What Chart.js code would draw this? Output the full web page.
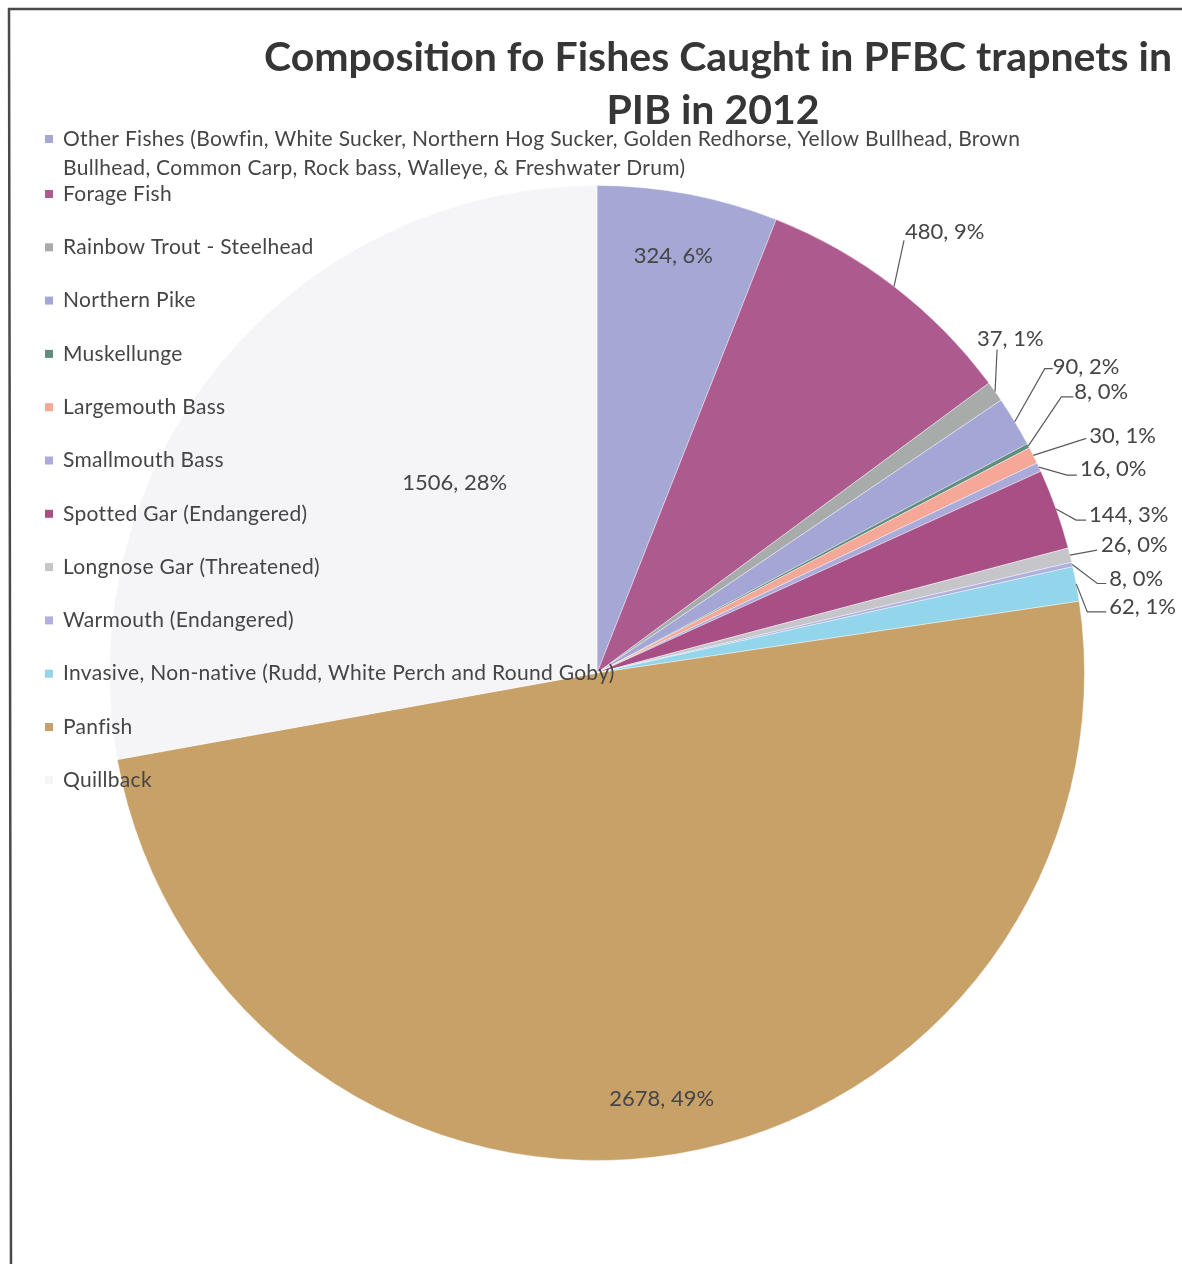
<!DOCTYPE html>
<html>
<head>
<meta charset="utf-8">
<title>Composition fo Fishes Caught in PFBC trapnets in PIB in 2012</title>
<script src="https://cdn.jsdelivr.net/npm/chart.js@4.4.0/dist/chart.umd.min.js"></script>
<style>
  html, body { margin: 0; padding: 0; background: #fff; }
  #wrap { width: 1182px; height: 1264px; position: relative; }
</style>
</head>
<body>
<div id="wrap"><canvas id="fishChart" width="1182" height="1264"></canvas></div>
<script>
// catch by species group, clockwise from 12 o'clock
var species = [
    'Other Fishes (Bowfin, White Sucker, Northern Hog Sucker, Golden Redhorse, Yellow Bullhead, Brown Bullhead, Common Carp, Rock bass, Walleye, & Freshwater Drum)',
    'Forage Fish',
    'Rainbow Trout - Steelhead',
    'Northern Pike',
    'Muskellunge',
    'Largemouth Bass',
    'Smallmouth Bass',
    'Spotted Gar (Endangered)',
    'Longnose Gar (Threatened)',
    'Warmouth (Endangered)',
    'Invasive, Non-native (Rudd, White Perch and Round Goby)',
    'Panfish',
    'Quillback'
];
var counts = [324, 480, 37, 90, 8, 30, 16, 144, 26, 8, 62, 2678, 1506];
var pctLabels = ['6%', '9%', '1%', '2%', '0%', '1%', '0%', '3%', '0%', '0%', '1%', '49%', '28%'];
var colors = ['#a5a7d4', '#ad5a8f', '#a7abaa', '#a4a6d6', '#5f8d7e', '#f5a897', '#aaaadb',
              '#a84f86', '#c6c6ca', '#b0b0e0', '#93d5ea', '#c8a169', '#f5f5f8'];

// the long first entry wraps onto two lines in the legend
var legendText = [
    ['Other Fishes (Bowfin, White Sucker, Northern Hog Sucker, Golden Redhorse, Yellow Bullhead, Brown',
     'Bullhead, Common Carp, Rock bass, Walleye, & Freshwater Drum)'],
    ['Forage Fish'], ['Rainbow Trout - Steelhead'], ['Northern Pike'], ['Muskellunge'],
    ['Largemouth Bass'], ['Smallmouth Bass'], ['Spotted Gar (Endangered)'],
    ['Longnose Gar (Threatened)'], ['Warmouth (Endangered)'],
    ['Invasive, Non-native (Rudd, White Perch and Round Goby)'], ['Panfish'], ['Quillback']
];

// where each value label sits: inside = fraction of radius, otherwise offset from the slice edge
var labelSpots = [
    { inside: 0.87, dx: -3, dy: 0 },
    { dx: 11, dy: -55, ex: -1, ey: 9, h: 0 },
    { dx: -18, dy: -53, ex: 20, ey: 11, h: 0 },
    { dx: 38, dy: -55, ex: 0, ey: 2, h: 8 },
    { dx: 46, dy: -54, ex: -1, ey: 5, h: 12 },
    { dx: 56, dy: -20, ex: -3, ey: 3, h: 0 },
    { dx: 41, dy: 2, ex: -3, ey: 6, h: 10 },
    { dx: 33, dy: 6, ex: -3, ey: 5, h: 10 },
    { dx: 31, dy: -10, ex: -4, ey: 5, h: 0 },
    { dx: 37, dy: 14, ex: -3, ey: 5, h: 9 },
    { dx: 33, dy: 23, ex: -3, ey: 5, h: 19 },
    { inside: 0.88, dx: -5, dy: 3 },
    { inside: 0.49, dx: 41, dy: -37 }
];

var TEXT = '#454545';
var FONT = 'Lato, "Open Sans", sans-serif';

var frame = {
    id: 'frame',
    beforeDraw: function (chart) {
        var ctx = chart.ctx;
        ctx.save();
        ctx.fillStyle = '#fff';
        ctx.fillRect(0, 0, chart.width, chart.height);
        ctx.strokeStyle = '#4a4a4a';
        ctx.lineWidth = 2.5;
        ctx.beginPath();
        ctx.moveTo(11, chart.height + 2);
        ctx.lineTo(9, 9);
        ctx.lineTo(chart.width + 2, 9);
        ctx.stroke();
        ctx.restore();
    }
};

var fishLabels = {
    id: 'fishLabels',
    afterDatasetsDraw: function (chart) {
        var ctx = chart.ctx;
        var arcs = chart.getDatasetMeta(0).data;
        ctx.save();

        // title
        ctx.fillStyle = '#363636';
        ctx.textAlign = 'center';
        ctx.textBaseline = 'alphabetic';
        ctx.font = 'bold 41px ' + FONT;
        ctx.fillText('Composition fo Fishes Caught in PFBC trapnets in', 718, 71);
        ctx.fillText('PIB in 2012', 713, 124);

        // legend, drawn over the pie
        ctx.font = '21px ' + FONT;
        ctx.letterSpacing = '0.3px';
        ctx.textAlign = 'left';
        ctx.textBaseline = 'middle';
        var y = 139;
        legendText.forEach(function (lines, i) {
            ctx.fillStyle = colors[i];
            ctx.fillRect(45, y - 4, 8, 8);
            ctx.fillStyle = TEXT;
            lines.forEach(function (line, k) {
                ctx.fillText(line, 63, y + k * 29);
            });
            y = (i === 0) ? 194 : y + 53.3;
        });

        // value labels with leader lines
        ctx.font = '22px ' + FONT;
        ctx.letterSpacing = '0px';
        ctx.strokeStyle = '#5a5a5a';
        ctx.lineWidth = 1.2;
        arcs.forEach(function (arc, i) {
            var spot = labelSpots[i];
            var mid = (arc.startAngle + arc.endAngle) / 2;
            var text = counts[i] + ', ' + pctLabels[i];
            ctx.fillStyle = TEXT;
            if (spot.inside) {
                var r = arc.outerRadius * spot.inside;
                ctx.textAlign = 'center';
                ctx.fillText(text, arc.x + r * Math.cos(mid) + spot.dx, arc.y + r * Math.sin(mid) + spot.dy);
                return;
            }
            var ax = arc.x + arc.outerRadius * Math.cos(mid);
            var ay = arc.y + arc.outerRadius * Math.sin(mid);
            var tx = ax + spot.dx;
            var ty = ay + spot.dy;
            ctx.textAlign = 'left';
            ctx.fillText(text, tx, ty);
            ctx.beginPath();
            ctx.moveTo(ax, ay);
            ctx.lineTo(tx + spot.ex - spot.h, ty + spot.ey);
            ctx.lineTo(tx + spot.ex, ty + spot.ey);
            ctx.stroke();
        });
        ctx.restore();
    }
};

new Chart(document.getElementById('fishChart'), {
    type: 'pie',
    data: {
        labels: species,
        datasets: [{
            data: counts,
            backgroundColor: colors,
            borderColor: 'rgba(255,255,255,0.4)',
            borderWidth: 1
        }]
    },
    options: {
        responsive: false,
        animation: false,
        layout: { padding: { left: 109, right: 97, top: 185, bottom: 103 } },
        plugins: {
            legend: { display: false },
            title: { display: false },
            tooltip: { enabled: false }
        }
    },
    plugins: [frame, fishLabels]
});
</script>
</body>
</html>
